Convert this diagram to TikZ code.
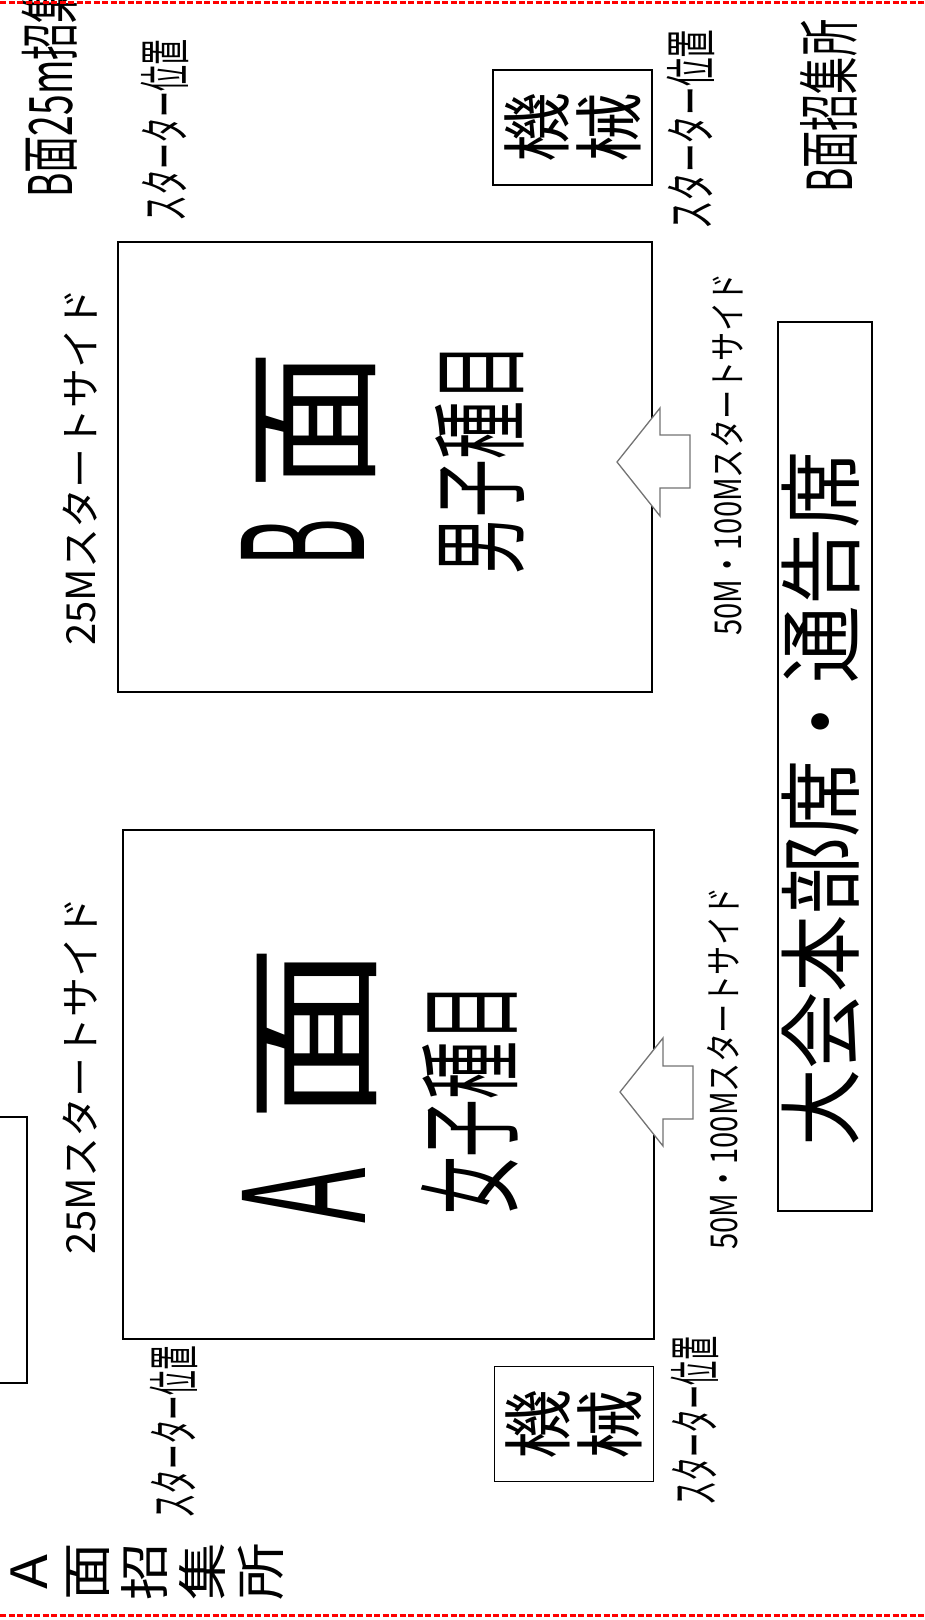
\documentclass[tikz,border=0pt]{standalone}
\usepackage{fontspec}
\setmainfont{Noto Sans CJK JP}
\usepackage{graphicx}
\usetikzlibrary{positioning}

\begin{document}
\begin{tikzpicture}[
    x=1pt, y=-1pt,
    every node/.style={inner sep=0pt},
    vlabel/.style={rotate=90, anchor=west},
    fs/.style={font=\fontsize{#1}{#1}\selectfont},
    court/.style={draw, line width=1.5pt},
    machine/.style={draw, line width=1.3pt, rotate=90, align=center,
                    minimum width=115pt, minimum height=159pt,
                    font=\fontsize{70}{72}\selectfont},
    fatarrow/.style={draw=black!55, fill=white, line width=1.3pt},
    redline/.style={draw=red, line width=3pt, dash pattern=on 6pt off 2.5pt},
]
    \clip (0,0) rectangle (925,1620);

    % pools
    \node[court, minimum width=534pt, minimum height=450pt] (courtB) at (385,467) {};
    \node[court, minimum width=531pt, minimum height=509pt] (courtA) at (388.5,1084.5) {};
    \draw[court] (-40,1117) rectangle (27,1383);

    \node[vlabel, fs=140] (faceB) at (309,567) {\scalebox{0.52}[1.2]{B}\hspace{28pt}面};
    \node[vlabel, fs=98, xscale=0.59] (menB) at (480,575) {男子種目};
    \node[vlabel, fs=140, xscale=1.28] (faceA) at (310,1224) {\scalebox{0.51}[1.2]{A}\hspace{35pt}面};
    \node[vlabel, fs=105, xscale=0.55] (womenA) at (470,1215) {女子種目};

    % start sides
    \node[vlabel, fs=40] (side25B) at (80,646) {25Mスタートサイド};
    \node[vlabel, fs=40] (side25A) at (80,1255) {25Mスタートサイド};
    \node[vlabel, fs=37, xscale=0.79] (side50B) at (727,636) {50M・100Mスタートサイド};
    \node[vlabel, fs=37, xscale=0.79] (side50A) at (723,1250) {50M・100Mスタートサイド};

    % arrows
    \draw[fatarrow] (617,462) -- ++(43,-54) -- ++(0,27) -- ++(30,0) -- ++(0,53)
        -- ++(-30,0) -- ++(0,28) -- cycle;
    \draw[fatarrow] (620,1092) -- ++(43,-54) -- ++(0,28) -- ++(30,0) -- ++(0,53)
        -- ++(-30,0) -- ++(0,27) -- cycle;

    % starters and machines
    \node[vlabel, fs=52, xscale=0.5] (starterTL) at (165,222) {スターター位置};
    \node[vlabel, fs=52, xscale=0.55] (starterTR) at (691,230) {スターター位置};
    \node[vlabel, fs=52, xscale=0.475] (starterBL) at (174,1519) {スターター位置};
    \node[vlabel, fs=52, xscale=0.465] (starterBR) at (695,1506) {スターター位置};
    \node[machine] (machTop) at (572.5,127.5) {機\\械};
    \node[machine] (machBot) at (574,1424) {機\\械};

    % call areas
    \node[vlabel, fs=60, xscale=0.62] (callB25) at (50,198) {B面25m招集所};
    \node[vlabel, fs=62, xscale=0.6] (callB) at (829,193) {B面招集所};
    \node[rotate=90, align=center, xscale=1.15, font=\fontsize{50}{58}\selectfont]
        (callA) at (147,1572) {A\\面\\招\\集\\所};

    % headquarters
    \node[court, minimum width=94pt, minimum height=889pt] (hqBox) at (825,766.5) {};
    \node[vlabel, fs=84, xscale=0.92] (hqText) at (821,1147) {大会本部席・通告席};

    \draw[redline] (0,2) -- (925,2);
    \draw[redline] (0,1615) -- (925,1615);
\end{tikzpicture}
\end{document}
